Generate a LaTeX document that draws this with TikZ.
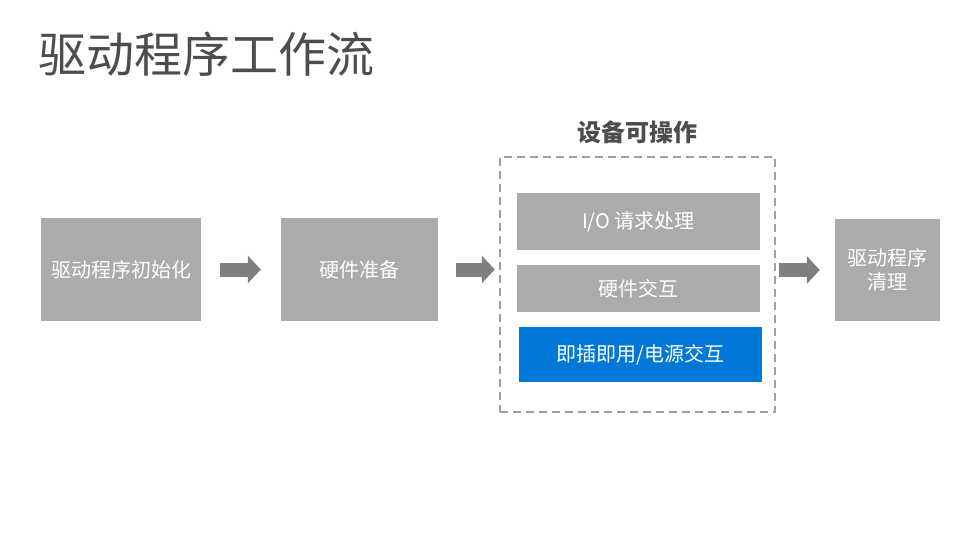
\documentclass[tikz,border=0pt]{standalone}
\usepackage{fontspec}
\setmainfont{Noto Sans CJK SC}
\usetikzlibrary{arrows.meta}
\definecolor{boxgray}{HTML}{ABABAB}
\definecolor{arrowgray}{HTML}{7F7F7F}
\definecolor{titlegray}{HTML}{4D4D4D}
\definecolor{dashgray}{HTML}{A0A0A0}
\definecolor{pnpblue}{HTML}{0078D7}
\begin{document}
\begin{tikzpicture}[x=1pt,y=-1pt,
  stage/.style={fill=boxgray,text=white,font=\fontsize{20}{24}\selectfont,align=center,inner sep=0pt},
  flow/.style={draw=arrowgray,line width=14pt,-{Triangle[width=27pt,length=13pt]}}]
\useasboundingbox (0,0) rectangle (979,551);
\node[anchor=west,text=titlegray,font=\fontsize{48}{52}\selectfont] (title) at (35,54) {驱动程序工作流};
\node[text=titlegray,font=\fontsize{24}{27}\selectfont\bfseries] (header) at (637,132) {设备可操作};
\node[draw=dashgray,line width=2.5pt,dash pattern=on 8pt off 5pt,minimum width=275pt,minimum height=255pt] (frame) at (637.5,284.5) {};
\node[stage,minimum width=160pt,minimum height=103pt] (init) at (121,269.5) {驱动程序初始化};
\node[stage,minimum width=157pt,minimum height=103pt] (prep) at (359.5,269.5) {硬件准备};
\node[stage,minimum width=243pt,minimum height=57pt] (io) at (638.5,221.5) {I/O 请求处理};
\node[stage,minimum width=243pt,minimum height=47pt] (hw) at (638.5,288.5) {硬件交互};
\node[stage,fill=pnpblue,minimum width=243pt,minimum height=55pt] (pnp) at (640.5,354.5) {即插即用/电源交互};
\node[stage,minimum width=105pt,minimum height=102pt] (clean) at (887.5,270) {驱动程序\\清理};
\draw[flow,shorten <=19pt,shorten >=20pt] (init) -- (prep);
\draw[flow,shorten <=18pt,shorten >=4pt] (prep) -- (prep -| frame.west);
\draw[flow,shorten <=3pt,shorten >=15pt] (frame.east |- clean) -- (clean);
\end{tikzpicture}
\end{document}
